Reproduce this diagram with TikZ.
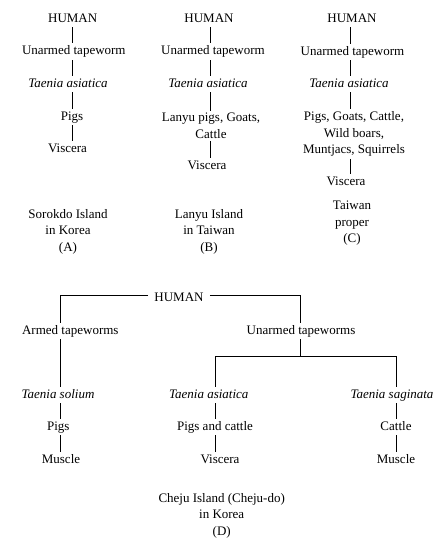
\documentclass[tikz,border=0pt]{standalone}
\usepackage{fontspec}
\setmainfont{Liberation Serif}
\begin{document}
\begin{tikzpicture}[x=1pt,y=-1pt,
  every node/.style={font=\fontsize{13}{16.3}\selectfont},
  lbl/.style={inner xsep=1pt, inner ysep=2.5pt, text height=9pt, text depth=2.5pt},
  multi/.style={align=center, inner sep=2.5pt},
  link/.style={line width=0.7pt}]
\useasboundingbox (0,0) rectangle (446,556);

% ---- Column A
\node[lbl] (a1) at (72.7,19) {HUMAN};
\node[lbl] (a2) at (73.8,51.7) {Unarmed tapeworm};
\node[lbl] (a3) at (68,84) {\textit{Taenia asiatica}};
\node[lbl] (a4) at (72,117) {Pigs};
\node[lbl] (a5) at (67.5,149) {Viscera};
\node[multi] (acap) at (68,231.7) {Sorokdo Island\\in Korea\\(A)};
\coordinate (ax) at (72.7,0);
\draw[link] (ax |- a1.south) -- (ax |- a2.north);
\draw[link] (ax |- a2.south) -- (ax |- a3.north);
\draw[link] (ax |- a3.south) -- (ax |- a4.north);
\draw[link] (ax |- a4.south) -- (ax |- a5.north);

% ---- Column B
\node[lbl] (b1) at (209,19) {HUMAN};
\node[lbl] (b2) at (213,51.7) {Unarmed tapeworm};
\node[lbl] (b3) at (208,84) {\textit{Taenia asiatica}};
\node[multi] (b4) at (211,125.8) {Lanyu pigs, Goats,\\Cattle};
\node[lbl] (b5) at (207,166) {Viscera};
\node[multi] (bcap) at (209,231.7) {Lanyu Island\\in Taiwan\\(B)};
\coordinate (bx) at (210,0);
\draw[link] (bx |- b1.south) -- (bx |- b2.north);
\draw[link] (bx |- b2.south) -- (bx |- b3.north);
\draw[link] (bx |- b3.south) -- (bx |- b4.north);
\draw[link] (bx |- b4.south) -- (bx |- b5.north);

% ---- Column C
\node[lbl] (c1) at (352,19) {HUMAN};
\node[lbl] (c2) at (352.5,52) {Unarmed tapeworm};
\node[lbl] (c3) at (349,84) {\textit{Taenia asiatica}};
\node[multi] (c4) at (354,134) {Pigs, Goats, Cattle,\\Wild boars,\\Muntjacs, Squirrels};
\node[lbl] (c5) at (346,182.7) {Viscera};
\node[multi] (ccap) at (352,223.3) {Taiwan\\proper\\(C)};
\coordinate (cx) at (350,0);
\draw[link] (cx |- c1.south) -- (cx |- c2.north);
\draw[link] (cx |- c2.south) -- (cx |- c3.north);
\draw[link] (cx |- c3.south) -- (cx |- c4.north);
\draw[link] (cx |- c4.south) -- (cx |- c5.north);

% ---- Part D
\node[lbl, inner xsep=6pt] (dh) at (179,298.3) {HUMAN};
\node[lbl] (darm) at (70.3,331) {Armed tapeworms};
\node[lbl] (dun) at (301,331) {Unarmed tapeworms};
\node[lbl] (dsol) at (58,395) {\textit{Taenia solium}};
\node[lbl] (dpig) at (58.3,427) {Pigs};
\node[lbl] (dmus1) at (61,460) {Muscle};
\node[lbl] (dasi) at (208.8,395) {\textit{Taenia asiatica}};
\node[lbl] (dpc) at (215,427) {Pigs and cattle};
\node[lbl] (dvis) at (220,460) {Viscera};
\node[lbl] (dsag) at (392,395) {\textit{Taenia saginata}};
\node[lbl] (dcat) at (396,427) {Cattle};
\node[lbl] (dmus2) at (396,460) {Muscle};
\node[multi] (dcap) at (221.7,515.7) {Cheju Island (Cheju-do)\\in Korea\\(D)};

\coordinate (dl) at (60.7,295);
\coordinate (dr) at (300,295);
\coordinate (dj) at (300,356);
\coordinate (dm) at (215.7,356);
\coordinate (dn) at (396,356);

\draw[link] (dh.west |- dl) -- (dl) -- (dl |- darm.north);
\draw[link] (dh.east |- dr) -- (dr) -- (dr |- dun.north);
\draw[link] (dl |- darm.south) -- (dl |- dsol.north);
\draw[link] (dl |- dsol.south) -- (dl |- dpig.north);
\draw[link] (dl |- dpig.south) -- (dl |- dmus1.north);

\draw[link] (dr |- dun.south) -- (dj);
\draw[link] (dm |- dasi.north) -- (dm) -- (dn) -- (dn |- dsag.north);
\draw[link] (dm |- dasi.south) -- (dm |- dpc.north);
\draw[link] (dm |- dpc.south) -- (dm |- dvis.north);
\draw[link] (dn |- dsag.south) -- (dn |- dcat.north);
\draw[link] (dn |- dcat.south) -- (dn |- dmus2.north);
\end{tikzpicture}
\end{document}
